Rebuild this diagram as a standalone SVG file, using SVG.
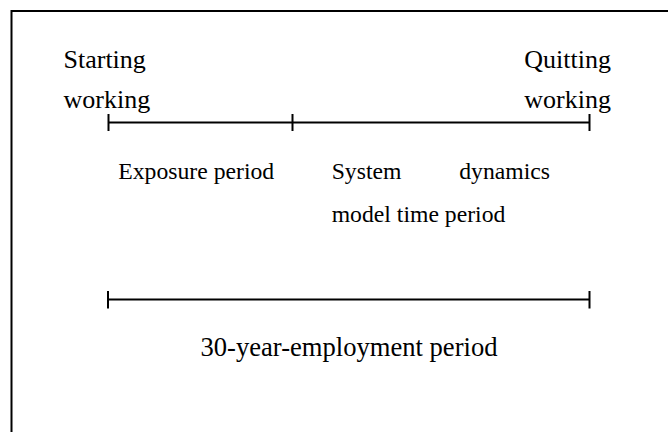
<svg xmlns="http://www.w3.org/2000/svg" width="668" height="432" viewBox="0 0 668 432">
<style>
.t{font-family:"Liberation Serif","Times New Roman",serif;fill:#000}
.big{font-size:26px}
.sm{font-size:23.7px}
.ln{stroke:#000;stroke-width:2;fill:none}
</style>
<rect x="0" y="0" width="668" height="432" fill="#fff"/>
<rect x="11.5" y="11" width="680" height="450" fill="none" stroke="#000" stroke-width="2"/>
<g id="connectors">
<g id="timeline-top">
<line class="ln" x1="108.5" y1="122.5" x2="589.5" y2="122.5"/>
<line class="ln" x1="108.5" y1="114" x2="108.5" y2="131"/>
<line class="ln" x1="292.5" y1="114" x2="292.5" y2="131"/>
<line class="ln" x1="589.5" y1="114" x2="589.5" y2="131"/>
</g>
<g id="timeline-bottom">
<line class="ln" x1="108" y1="299.5" x2="589.5" y2="299.5"/>
<line class="ln" x1="108" y1="291" x2="108" y2="308.5"/>
<line class="ln" x1="589.5" y1="291" x2="589.5" y2="308.5"/>
</g>
</g>
<g id="start-label">
<text class="t big" x="63.5" y="67.7">Starting</text>
<text class="t big" x="63.5" y="108">working</text>
</g>
<g id="quit-label">
<text class="t big" x="611" y="67.7" text-anchor="end">Quitting</text>
<text class="t big" x="611" y="108" text-anchor="end">working</text>
</g>
<g id="exposure-label">
<text class="t sm" x="118.3" y="179.3">Exposure period</text>
</g>
<g id="sd-label">
<text class="t sm" x="331.7" y="179.3">System</text>
<text class="t sm" x="550" y="179.3" text-anchor="end">dynamics</text>
<text class="t sm" x="331.7" y="221.7">model time period</text>
</g>
<g id="employment-label">
<text class="t big" x="349" y="356" text-anchor="middle" style="font-size:26.6px">30-year-employment period</text>
</g>
</svg>
